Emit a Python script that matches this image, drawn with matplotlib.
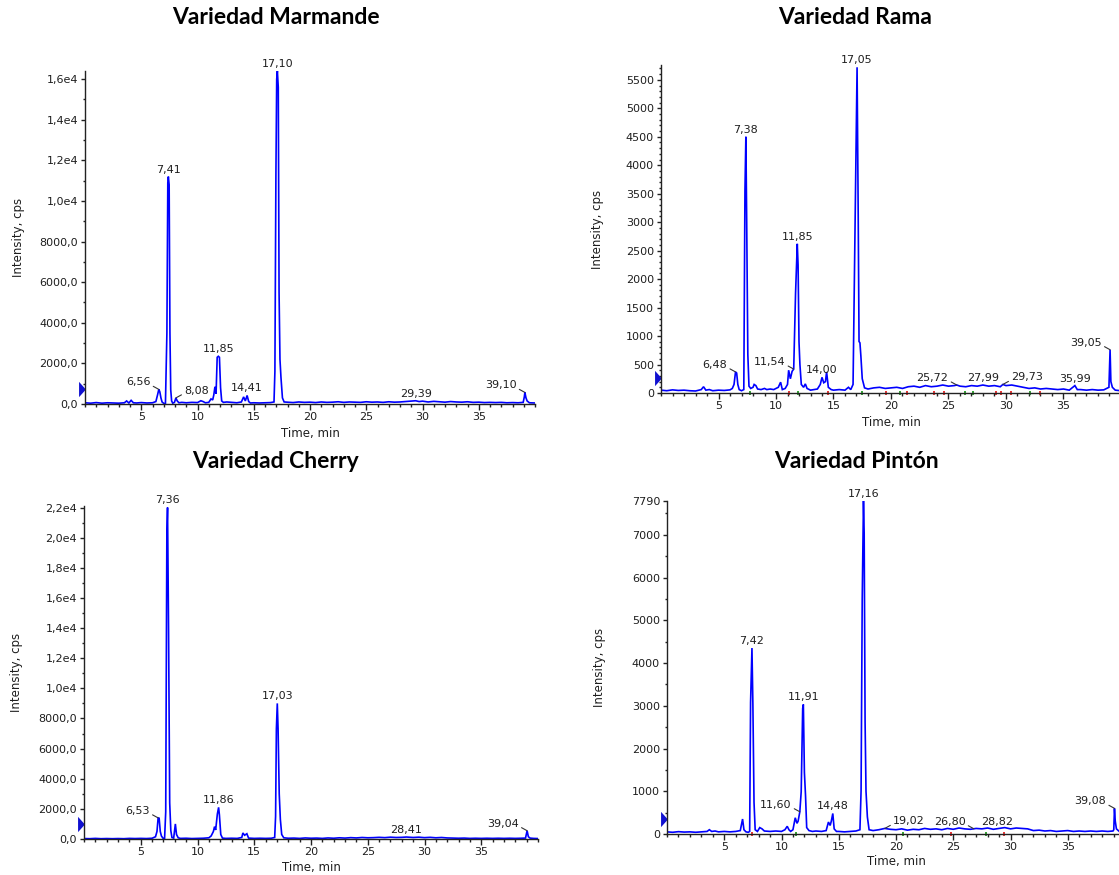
import numpy as np
import matplotlib
matplotlib.use("Agg")
import matplotlib.pyplot as plt
from matplotlib.ticker import FixedLocator, MultipleLocator, NullFormatter

# ---- Variedad Marmande (retention time in min, intensity in cps) ----
marmande_rt = [0.0, 0.5, 1.0, 1.5, 2.0, 2.5, 3.0, 3.5, 3.7, 3.9, 4.1, 4.3, 4.6, 5.0, 5.5, 6.0,
               6.3, 6.45, 6.56, 6.65, 6.75, 6.85, 7.0, 7.15,
               7.28, 7.36, 7.41, 7.48, 7.55, 7.62, 7.7, 7.8, 7.95, 8.08, 8.2, 8.35,
               8.6, 9.0, 9.5, 10.0, 10.3, 10.5, 10.7, 11.0,
               11.2, 11.35, 11.45, 11.55, 11.65, 11.75, 11.85, 11.95, 12.05, 12.15, 12.3,
               12.6, 13.0, 13.5, 13.9, 14.1, 14.25, 14.41, 14.55, 14.7,
               15.0, 15.5, 16.0, 16.5, 16.8,
               16.88, 16.97, 17.04, 17.10, 17.18, 17.25, 17.33, 17.42, 17.55, 17.7,
               18.0, 18.5, 19.0, 19.5, 20.0, 20.5, 21.0, 21.5, 22.0, 22.5, 23.0, 23.5, 24.0, 24.5,
               25.0, 25.5, 26.0, 26.5, 27.0, 27.5, 28.0, 28.5, 29.0, 29.39, 29.7, 30.0, 30.5,
               31.0, 31.5, 32.0, 32.5, 33.0, 33.5, 34.0, 34.5, 35.0, 35.5, 36.0, 36.5, 37.0,
               37.5, 38.0, 38.5, 38.95, 39.05, 39.10, 39.2, 39.3, 39.5, 40.0]
marmande_cps = [60, 40, 70, 40, 60, 50, 40, 60, 150, 50, 180, 60, 50, 70, 50, 60,
                120, 450, 720, 600, 300, 100, 30, 20,
                3500, 10900, 11200, 10800, 3500, 700, 150, 40, 80, 300, 150, 60,
                80, 60, 80, 70, 160, 120, 60, 80,
                250, 200, 450, 850, 500, 2300, 2350, 2300, 800, 150, 80,
                100, 80, 60, 100, 350, 150, 420, 120, 50,
                60, 50, 60, 70, 100,
                1600, 11300, 16000, 16400, 15600, 5500, 2200, 1300, 300, 100,
                90, 70, 100, 80, 90, 70, 100, 80, 90, 110, 80, 100, 90, 80,
                110, 90, 100, 80, 110, 90, 100, 120, 140, 160, 120, 140, 100,
                130, 110, 90, 120, 100, 90, 110, 80, 90, 70, 80, 70, 80,
                60, 70, 60, 80, 350, 570, 300, 150, 60, 50]
marmande_yticks = [0, 2000, 4000, 6000, 8000, 10000, 12000, 14000, 16000]
marmande_yticklabels = ["0,0", "2000,0", "4000,0", "6000,0", "8000,0",
                        "1,0e4", "1,2e4", "1,4e4", "1,6e4"]
marmande_peaks = ["6,56", "7,41", "8,08", "11,85", "14,41", "17,10", "29,39", "39,10"]
marmande_sides = ["l", "c", "r", "c", "c", "c", "c", "l"]

# ---- Variedad Rama ----
rama_rt = [0.0, 0.5, 1.0, 1.5, 2.0, 2.5, 3.0, 3.5, 3.7, 3.9, 4.2, 4.5, 5.0, 5.5, 6.0,
           6.2, 6.35, 6.48, 6.58, 6.68, 6.8, 7.0, 7.2,
           7.3, 7.38, 7.45, 7.55, 7.65, 7.8, 8.0, 8.1, 8.25, 8.4, 8.7,
           9.0, 9.2, 9.5, 9.8, 10.0, 10.2, 10.4, 10.55, 10.8,
           11.0, 11.1, 11.25, 11.4, 11.54, 11.7, 11.85, 11.92, 12.0, 12.08, 12.2, 12.4, 12.55, 12.7,
           13.0, 13.3, 13.6, 13.85, 14.0, 14.15, 14.3, 14.4, 14.55, 14.8,
           15.0, 15.5, 16.0, 16.3, 16.5, 16.7,
           16.9, 17.05, 17.15, 17.22, 17.3, 17.38, 17.5, 17.7, 18.0,
           18.5, 19.0, 19.5, 20.0, 20.5, 21.0, 21.5, 22.0, 22.5, 23.0, 23.5, 24.0, 24.5,
           25.0, 25.5, 25.72, 26.0, 26.5, 27.0, 27.5, 27.99, 28.5, 29.0, 29.5, 29.73,
           30.0, 30.5, 31.0, 31.5, 32.0, 32.5, 33.0, 33.5, 34.0, 34.5, 35.0, 35.5, 35.99,
           36.2, 36.5, 37.0, 37.5, 38.0, 38.5, 38.95, 39.05, 39.12, 39.25, 39.5, 40.0]
rama_cps = [50, 40, 55, 45, 50, 40, 35, 60, 110, 50, 60, 40, 50, 45, 55,
            80, 150, 370, 350, 150, 60, 40, 60,
            3550, 4500, 3050, 680, 120, 80, 100, 150, 130, 70, 60,
            80, 60, 70, 60, 80, 100, 190, 60, 80,
            150, 400, 250, 380, 420, 1750, 2620, 2250, 900, 500, 150, 100, 160, 80,
            50, 60, 70, 150, 275, 180, 200, 370, 100, 60,
            50, 60, 50, 100, 60, 150,
            3310, 5720, 3090, 905, 880, 650, 250, 90, 70,
            90, 100, 80, 90, 100, 80, 110, 120, 100, 130, 110, 120, 140,
            120, 130, 140, 120, 110, 130, 120, 140, 120, 130, 110, 150,
            130, 140, 120, 100, 80, 90, 70, 80, 70, 60, 70, 50, 130,
            60, 60, 50, 60, 50, 55, 100, 760, 200, 100, 50, 40]
rama_yticks = [0, 500, 1000, 1500, 2000, 2500, 3000, 3500, 4000, 4500, 5000, 5500]
rama_yticklabels = [str(v) for v in rama_yticks]
rama_peaks = ["6,48", "7,38", "11,54", "11,85", "14,00", "17,05", "25,72",
              "27,99", "29,73", "35,99", "39,05"]
rama_sides = ["l", "c", "l", "c", "c", "c", "l", "c", "r", "c", "l"]
# integration start/end flags sitting on the time axis
rama_start_marks = [7.7, 11.9, 17.5, 20.8, 26.4, 27.1, 32.1]
rama_end_marks = [11.1, 14.5, 19.6, 21.4, 23.7, 24.6, 29.1, 29.6, 30.4, 33.0]

# ---- Variedad Cherry ----
cherry_rt = [0.0, 0.5, 1.0, 1.5, 2.0, 2.5, 3.0, 3.5, 4.0, 4.5, 5.0, 5.5, 6.0,
             6.3, 6.43, 6.53, 6.62, 6.72, 6.82, 6.95, 7.1,
             7.2, 7.3, 7.36, 7.45, 7.55, 7.65, 7.75, 7.9,
             8.05, 8.15, 8.3, 8.5,
             9.0, 9.5, 10.0, 10.5, 11.0,
             11.2, 11.4, 11.5, 11.6, 11.75, 11.86, 11.93, 12.05, 12.2, 12.5,
             13.0, 13.5, 13.9, 14.0, 14.15, 14.35, 14.5,
             15.0, 15.5, 16.0, 16.5, 16.8,
             16.88, 16.95, 17.03, 17.1, 17.2, 17.3, 17.42, 17.6,
             18.0, 18.5, 19.0, 19.5, 20.0, 20.5, 21.0, 21.5, 22.0, 22.5, 23.0,
             23.5, 24.0, 24.5, 25.0, 25.5, 26.0, 26.5, 27.0, 27.5, 28.0, 28.41,
             29.0, 29.5, 30.0, 30.5, 31.0, 31.5, 32.0, 32.5, 33.0, 33.5,
             34.0, 34.5, 35.0, 35.5, 36.0, 36.5, 37.0, 37.5, 38.0, 38.5,
             38.9, 39.04, 39.15, 39.3, 39.6, 40.0]
cherry_cps = [30, 20, 40, 20, 30, 20, 30, 20, 40, 30, 40, 30, 50,
              150, 500, 1400, 1380, 500, 200, 60, 40,
              1800, 20300, 22000, 13900, 2400, 550, 100, 60,
              1000, 300, 80, 40,
              50, 30, 40, 50, 80,
              200, 500, 820, 600, 1660, 2100, 1600, 300, 60, 40,
              50, 40, 100, 400, 250, 350, 60,
              40, 50, 40, 50, 100,
              1500, 7300, 9000, 7300, 3000, 1300, 300, 80,
              50, 60, 40, 70, 50, 60, 40, 70, 50, 80, 60,
              90, 70, 100, 80, 90, 110, 90, 120, 100, 110, 130,
              100, 120, 90, 110, 80, 100, 70, 60, 50, 60,
              40, 50, 40, 50, 40, 50, 40, 50, 40, 50,
              60, 550, 150, 60, 40, 30]
cherry_yticks = [0, 2000, 4000, 6000, 8000, 10000, 12000, 14000, 16000, 18000, 20000, 22000]
cherry_yticklabels = ["0,0", "2000,0", "4000,0", "6000,0", "8000,0", "1,0e4",
                      "1,2e4", "1,4e4", "1,6e4", "1,8e4", "2,0e4", "2,2e4"]
cherry_peaks = ["6,53", "7,36", "11,86", "17,03", "28,41", "39,04"]
cherry_sides = ["l", "c", "c", "c", "c", "l"]

# ---- Variedad Pintón ----
pinton_rt = [0.0, 0.5, 1.0, 1.5, 2.0, 2.5, 3.0, 3.5, 3.7, 3.9, 4.2, 4.5, 5.0, 5.5, 6.0,
             6.4, 6.6, 6.72, 6.9, 7.1, 7.22, 7.3, 7.42, 7.5, 7.6, 7.7, 7.9, 8.1, 8.3, 8.5,
             9.0, 9.5, 10.0, 10.3, 10.5, 10.65, 10.8, 11.0, 11.2, 11.35,
             11.45, 11.6, 11.72, 11.85, 11.91, 12.0, 12.1, 12.2, 12.4, 12.7,
             13.0, 13.5, 13.9, 14.1, 14.25, 14.35, 14.48, 14.6, 14.8, 15.0, 15.5, 16.0, 16.5, 16.85,
             16.95, 17.05, 17.16, 17.22, 17.3, 17.38, 17.5, 17.65, 18.0, 18.5, 19.02, 19.5,
             20.0, 20.5, 21.0, 21.5, 22.0, 22.5, 23.0, 23.5, 24.0, 24.5,
             25.0, 25.5, 26.0, 26.5, 27.0, 27.5, 28.0, 28.5, 29.0, 29.5,
             30.0, 30.5, 31.0, 31.5, 32.0, 32.5, 33.0, 33.5, 34.0, 34.5,
             35.0, 35.5, 36.0, 36.5, 37.0, 37.5, 38.0, 38.5,
             38.95, 39.02, 39.08, 39.15, 39.25, 39.5, 40.0]
pinton_cps = [50, 40, 55, 45, 50, 40, 50, 60, 100, 60, 70, 50, 60, 50, 60,
              80, 350, 100, 50, 40, 60, 3080, 4350, 3050, 740, 100, 60, 150, 120, 70,
              60, 70, 60, 100, 180, 100, 60, 100, 380, 250,
              300, 520, 990, 2940, 3030, 1440, 890, 150, 80, 60,
              70, 60, 80, 280, 200, 300, 480, 120, 60, 60, 50, 60, 70, 100,
              1010, 5500, 7790, 7040, 2630, 1000, 400, 100, 80, 100, 130, 110,
              100, 120, 90, 110, 100, 130, 110, 120, 100, 130,
              110, 140, 120, 110, 130, 120, 140, 110, 130, 150,
              120, 140, 130, 120, 80, 90, 70, 80, 60, 70,
              80, 60, 70, 60, 70, 60, 70, 60,
              70, 100, 600, 300, 120, 60, 50]
pinton_yticks = [0, 1000, 2000, 3000, 4000, 5000, 6000, 7000, 7790]
pinton_yticklabels = [str(v) for v in pinton_yticks]
pinton_peaks = ["7,42", "11,60", "11,91", "14,48", "17,16", "19,02", "26,80", "28,82", "39,08"]
pinton_sides = ["c", "l", "c", "c", "c", "r", "l", "c", "l"]
pinton_start_marks = [11.3, 20.6, 27.9]
pinton_end_marks = [7.45, 24.8, 29.4]

# ---- page layout (pixel boxes: left, top, right, bottom) ----
W, H = 1119, 875
fig = plt.figure(figsize=(W / 100, H / 100), dpi=100)

panels = [
    dict(title="Variedad Marmande", tx=276, ty=18, box=(85, 71, 535, 404),
         rt=marmande_rt, cps=marmande_cps, ymax=16400, minor=1000,
         yt=marmande_yticks, ytl=marmande_yticklabels,
         peaks=marmande_peaks, sides=marmande_sides, ylx=19, xly=433,
         starts=[], ends=[]),
    dict(title="Variedad Rama", tx=855, ty=18, box=(661, 65, 1121, 393),
         rt=rama_rt, cps=rama_cps, ymax=5760, minor=100,
         yt=rama_yticks, ytl=rama_yticklabels,
         peaks=rama_peaks, sides=rama_sides, ylx=597, xly=423,
         starts=rama_start_marks, ends=rama_end_marks),
    dict(title="Variedad Cherry", tx=276, ty=462, box=(84, 506, 538, 839),
         rt=cherry_rt, cps=cherry_cps, ymax=22100, minor=1000,
         yt=cherry_yticks, ytl=cherry_yticklabels,
         peaks=cherry_peaks, sides=cherry_sides, ylx=17, xly=867,
         starts=[], ends=[]),
    dict(title="Variedad Pintón", tx=856, ty=462, box=(667, 501, 1125, 834),
         rt=pinton_rt, cps=pinton_cps, ymax=7790, minor=500,
         yt=pinton_yticks, ytl=pinton_yticklabels,
         peaks=pinton_peaks, sides=pinton_sides, ylx=599, xly=862,
         starts=pinton_start_marks, ends=pinton_end_marks),
]

text_col = "#1e1e1e"
for p in panels:
    assert len(p["rt"]) == len(p["cps"])
    l, t, r, b = p["box"]
    wpx, hpx = r - l, b - t
    ax = fig.add_axes([l / W, 1 - b / H, wpx / W, hpx / H])
    ax.plot(p["rt"], p["cps"], color="#0000ff", lw=1.2, solid_joinstyle="miter")
    ax.set_xlim(0, 40)
    ax.set_ylim(0, p["ymax"])

    # small integration flags on the baseline
    ax.plot(p["starts"], [0] * len(p["starts"]), ls="none", marker="|", ms=3,
            mew=1.2, color="#109010", clip_on=False)
    ax.plot(p["ends"], [0] * len(p["ends"]), ls="none", marker="|", ms=3,
            mew=1.2, color="#e01010", clip_on=False)

    for side in ("top", "right"):
        ax.spines[side].set_visible(False)
    for side in ("left", "bottom"):
        ax.spines[side].set_linewidth(1.0)
        ax.spines[side].set_color("#222222")

    ax.xaxis.set_major_locator(FixedLocator([5, 10, 15, 20, 25, 30, 35]))
    ax.xaxis.set_minor_locator(MultipleLocator(1))
    ax.yaxis.set_major_locator(FixedLocator(p["yt"]))
    ax.set_yticklabels(p["ytl"])
    ax.yaxis.set_minor_locator(MultipleLocator(p["minor"]))
    ax.yaxis.set_minor_formatter(NullFormatter())
    ax.tick_params(axis="x", which="major", length=4, width=1, pad=2,
                   labelsize=8, colors="#222222", labelcolor=text_col)
    ax.tick_params(axis="x", which="minor", length=2, width=1, colors="#222222")
    ax.tick_params(axis="y", which="major", length=3, width=1, pad=2,
                   labelsize=8, colors="#222222", labelcolor=text_col)
    ax.tick_params(axis="y", which="minor", length=1.5, width=1, colors="#222222")

    ax.set_xlabel("Time, min", fontsize=8.5, color=text_col, va="center")
    ax.set_ylabel("Intensity, cps", fontsize=8.5, color=text_col, va="center")
    ax.xaxis.set_label_coords(0.5, -(p["xly"] - b) / hpx)
    ax.yaxis.set_label_coords(-(l - p["ylx"]) / wpx, 0.5)

    # baseline flag on the intensity axis
    ax.plot([-3.0 / wpx], [15.0 / hpx], transform=ax.transAxes, clip_on=False,
            marker=[(-0.45, -1.0), (0.45, 0.0), (-0.45, 1.0)], markersize=11,
            color="#1010d0", markeredgewidth=0)

    # retention time labels
    for lab, side in zip(p["peaks"], p["sides"]):
        x = float(lab.replace(",", "."))
        y = np.interp(x, p["rt"], p["cps"])
        if side == "c":
            ax.annotate(lab, (x, y), xytext=(0, 1.5), textcoords="offset points",
                        ha="center", va="bottom", fontsize=8, color=text_col)
        else:
            dx = -6 if side == "l" else 6
            ax.annotate(lab, (x, y), xytext=(dx, 1.5), textcoords="offset points",
                        ha="right" if side == "l" else "left", va="bottom",
                        fontsize=8, color=text_col,
                        arrowprops=dict(arrowstyle="-", color="#333333", lw=0.8,
                                        relpos=(1.0, 0.25) if side == "l" else (0.0, 0.25),
                                        shrinkA=0, shrinkB=0))

    fig.text(p["tx"] / W, 1 - p["ty"] / H, p["title"], ha="center", va="center",
             fontsize=16.5, fontweight="bold", family=["Lato", "DejaVu Sans"], color="black")

fig.savefig("out.png", dpi=100)
